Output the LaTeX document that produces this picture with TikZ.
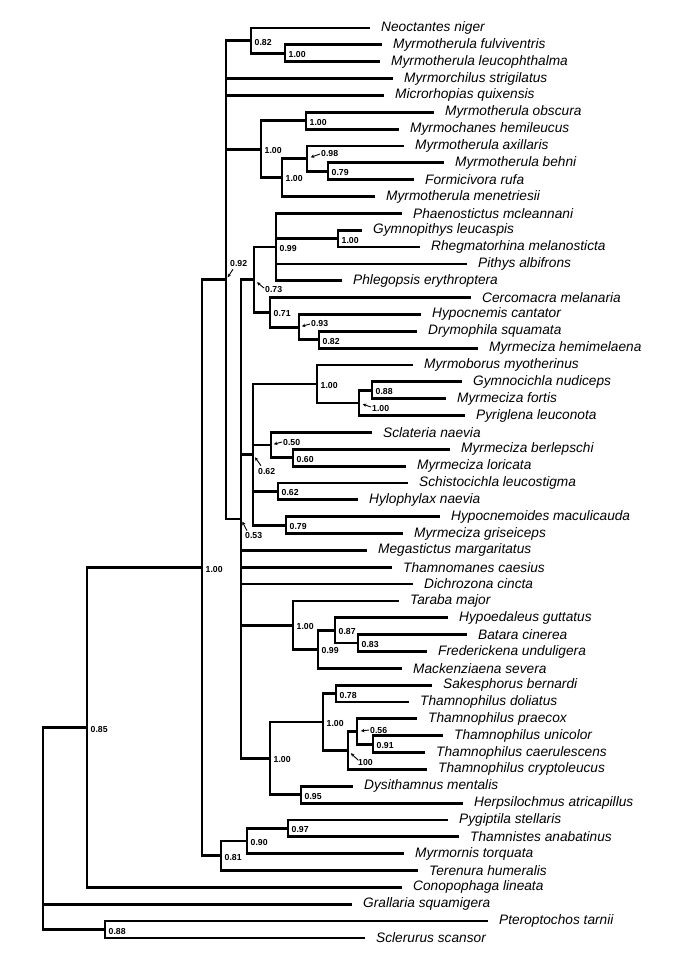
\documentclass[tikz,border=0pt]{standalone}
\usepackage{fontspec}
\setmainfont{Liberation Sans}
\usepackage{tikz}
\usetikzlibrary{arrows.meta,positioning,calc}
\tikzset{
    ramo/.style={line width=2.8pt, line join=miter},
    taxon/.style={inner sep=0pt, anchor=west, font=\fontsize{13.7pt}{15pt}\selectfont\itshape},
    suporte/.style={inner sep=0pt, anchor=west, font=\fontsize{8.7pt}{9pt}\selectfont\bfseries},
    rotulo/.style={suporte, yshift=-1.5pt},
    seta/.style={-{Stealth[length=3.5pt,width=3.5pt]}, line width=0.9pt, shorten >=3pt}
}

\begin{document}
\begin{tikzpicture}[x=1pt, y=-1pt]
        \useasboundingbox (0,0) rectangle (685,969);

        \foreach \i/\x/\nome in {
            1/370/Neoctantes niger, 2/382/Myrmotherula fulviventris,
            3/380/Myrmotherula leucophthalma, 4/393/Myrmorchilus strigilatus,
            5/384/Microrhopias quixensis, 6/434/Myrmotherula obscura,
            7/399/Myrmochanes hemileucus, 8/404/Myrmotherula axillaris,
            9/444/Myrmotherula behni, 10/414/Formicivora rufa,
            11/375/Myrmotherula menetriesii, 12/402/Phaenostictus mcleannani,
            13/362/Gymnopithys leucaspis, 14/420/Rhegmatorhina melanosticta,
            15/467/Pithys albifrons, 16/342/Phlegopsis erythroptera,
            17/471/Cercomacra melanaria, 18/421/Hypocnemis cantator,
            19/417/Drymophila squamata, 20/478/Myrmeciza hemimelaena,
            21/413/Myrmoborus myotherinus, 22/462/Gymnocichla nudiceps,
            23/446/Myrmeciza fortis, 24/465/Pyriglena leuconota,
            25/372/Sclateria naevia, 26/450/Myrmeciza berlepschi,
            27/406/Myrmeciza loricata, 28/408/Schistocichla leucostigma,
            29/358/Hylophylax naevia, 30/440/Hypocnemoides maculicauda,
            31/403/Myrmeciza griseiceps, 32/367/Megastictus margaritatus,
            33/392/Thamnomanes caesius, 34/413/Dichrozona cincta,
            35/399/Taraba major, 36/448/Hypoedaleus guttatus,
            37/467/Batara cinerea, 38/427/Frederickena unduligera,
            39/402/Mackenziaena severa, 40/432/Sakesphorus bernardi,
            41/409/Thamnophilus doliatus, 42/417/Thamnophilus praecox,
            43/443/Thamnophilus unicolor, 44/425/Thamnophilus caerulescens,
            45/427/Thamnophilus cryptoleucus, 46/353/Dysithamnus mentalis,
            47/463/Herpsilochmus atricapillus, 48/448/Pygiptila stellaris,
            49/459/Thamnistes anabatinus, 50/404/Myrmornis torquata,
            51/418/Terenura humeralis, 52/402/Conopophaga lineata,
            53/352/Grallaria squamigera, 54/488/Pteroptochos tarnii,
            55/365/Sclerurus scansor}{
            \coordinate (tip\i) at (\x, {11.15+16.85*\i});
            \node[taxon, right=11pt of tip\i] (sp\i) {\nome};
        }

        \coordinate (raiz) at (43,828.5);
        \coordinate (k085) at (87,727.6);
        \coordinate (k088) at (105,929.5);
        \coordinate (nucleo) at (202,567.8);
        \coordinate (k092) at (226,279.8);
        \coordinate (k082) at (251,40.6);
        \coordinate (fulvi) at (285,53.3);
        \coordinate (obscura) at (261,149.1);
        \coordinate (hemileu) at (306,120.7);
        \coordinate (axilar) at (282,177.5);
        \coordinate (k098) at (307,158.6);
        \coordinate (k079) at (328,171.2);
        \coordinate (k053) at (241,519.0);
        \coordinate (k073) at (254,279.7);
        \coordinate (k099) at (276,247.05);
        \coordinate (gymno) at (338,238.6);
        \coordinate (k071) at (270,312.35);
        \coordinate (k093) at (299,327.1);
        \coordinate (drymo) at (319,339.7);
        \coordinate (k062) at (253,454.5);
        \coordinate (myrmob) at (317,384.0);
        \coordinate (pyrig) at (359,402.9);
        \coordinate (fortis) at (372,390.3);
        \coordinate (k050) at (271,445.0);
        \coordinate (k060) at (293,457.7);
        \coordinate (schisto) at (278,491.4);
        \coordinate (hypocn) at (286,525.1);
        \coordinate (taraba) at (293,625.1);
        \coordinate (macken) at (318,649.35);
        \coordinate (k087) at (335,630.4);
        \coordinate (k083) at (358,643.0);
        \coordinate (thamno) at (270,758.35);
        \coordinate (thamnop) at (323,722.0);
        \coordinate (k078) at (336,693.6);
        \coordinate (k100) at (348,750.45);
        \coordinate (k056) at (357,731.5);
        \coordinate (k091) at (373,744.1);
        \coordinate (k095) at (301,794.7);
        \coordinate (k081) at (221,855.75);
        \coordinate (k090) at (247,841.0);
        \coordinate (k097) at (288,828.4);

        \foreach \pai/\filho in {
            raiz/k085, raiz/tip53, raiz/k088, k088/tip54, k088/tip55,
            k085/nucleo, k085/tip52, nucleo/k092, nucleo/k081,
            k092/k082, k092/tip4, k092/tip5, k092/obscura, k092/k053,
            k082/tip1, k082/fulvi, fulvi/tip2, fulvi/tip3,
            obscura/hemileu, obscura/axilar, hemileu/tip6, hemileu/tip7,
            axilar/k098, axilar/tip11, k098/tip8, k098/k079, k079/tip9, k079/tip10,
            k053/k073, k053/k062, k053/tip32, k053/tip33, k053/tip34,
            k053/taraba, k053/thamno,
            k073/k099, k073/k071, k099/tip12, k099/gymno, k099/tip15, k099/tip16,
            gymno/tip13, gymno/tip14, k071/tip17, k071/k093,
            k093/tip18, k093/drymo, drymo/tip19, drymo/tip20,
            k062/myrmob, k062/k050, k062/schisto, k062/hypocn,
            myrmob/tip21, myrmob/pyrig, pyrig/fortis, pyrig/tip24,
            fortis/tip22, fortis/tip23, k050/tip25, k050/k060,
            k060/tip26, k060/tip27, schisto/tip28, schisto/tip29,
            hypocn/tip30, hypocn/tip31,
            taraba/tip35, taraba/macken, macken/k087, macken/tip39,
            k087/tip36, k087/k083, k083/tip37, k083/tip38,
            thamno/thamnop, thamno/k095, thamnop/k078, thamnop/k100,
            k078/tip40, k078/tip41, k100/k056, k100/tip45,
            k056/tip42, k056/k091, k091/tip43, k091/tip44,
            k095/tip46, k095/tip47,
            k081/k090, k081/tip51, k090/k097, k090/tip50,
            k097/tip48, k097/tip49}{
            \draw[ramo] (\pai) |- (\filho);
        }

        \foreach \no/\valor in {
            k085/0.85, nucleo/1.00, k088/0.88, k082/0.82, fulvi/1.00,
            obscura/1.00, hemileu/1.00, axilar/1.00, k079/0.79,
            k099/0.99, gymno/1.00, k071/0.71, drymo/0.82,
            myrmob/1.00, fortis/0.88, k060/0.60, schisto/0.62, hypocn/0.79,
            taraba/1.00, macken/0.99, k087/0.87, k083/0.83,
            thamno/1.00, thamnop/1.00, k078/0.78, k091/0.91, k095/0.95,
            k081/0.81, k090/0.90, k097/0.97}{
            \node[rotulo, right=3.5pt of \no] (s\no) {\valor};
        }

        \node[suporte] (s098) at (321,154) {0.98};
        \node[suporte] (s092) at (230,264) {0.92};
        \node[suporte] (s073) at (265,290) {0.73};
        \node[suporte] (s093) at (311,324) {0.93};
        \node[suporte] (spyrig) at (372,408) {1.00};
        \node[suporte] (s050) at (283,442) {0.50};
        \node[suporte] (s062) at (258,471) {0.62};
        \node[suporte] (s053) at (245,536) {0.53};
        \node[suporte] (s056) at (370,730) {0.56};
        \node[suporte] (s100) at (358,762) {100};

        \draw[seta, shorten >=4pt] ($(s098.west)+(-1,0)$) -- (k098);
        \draw[seta] ($(s092.south west)+(3,2)$) -- (k092);
        \draw[seta, shorten >=4pt] ($(s073.west)+(-1,-2)$) -- (k073);
        \draw[seta] ($(s093.west)+(-1,0)$) -- (k093);
        \draw[seta, shorten >=4pt] ($(spyrig.west)+(-1,-1)$) -- (pyrig);
        \draw[seta] ($(s050.west)+(-1,0)$) -- (k050);
        \draw[seta, shorten >=3.5pt] ($(s062.north west)+(3,-2)$) -- (k062);
        \draw[seta] ($(s053.north west)+(2,-2)$) -- (k053);
        \draw[seta, shorten >=4pt] ($(s056.west)+(-1,0)$) -- (k056);
        \draw[seta, shorten >=4pt] ($(s100.west)+(0,-2)$) -- (k100);
    \end{tikzpicture}
\end{document}
